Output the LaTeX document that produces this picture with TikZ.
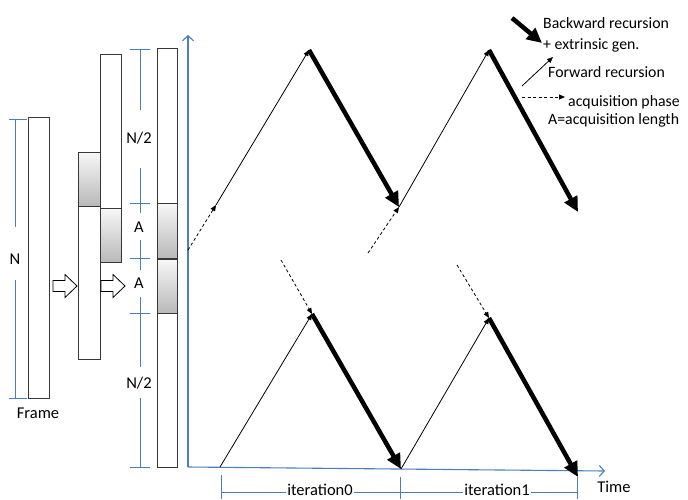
\documentclass[tikz,border=0pt]{standalone}
\usepackage{fontspec}
\setmainfont{Carlito}
\usetikzlibrary{arrows.meta}
\definecolor{axblue}{RGB}{74,126,193}
\definecolor{barline}{RGB}{55,55,55}
\begin{document}
\begin{tikzpicture}[x=1pt,y=-1pt,
  txt/.style={font=\fontsize{16.5}{19}\selectfont, inner sep=0pt, anchor=base},
  ltxt/.style={font=\fontsize{15.8}{19}\selectfont, inner sep=0pt, anchor=base west},
  bar/.style={draw=barline, line width=0.9pt, fill=white, inner sep=0pt},
  blk/.style={draw=barline, line width=0.9pt, top color=gray!6, bottom color=gray!55, inner sep=0pt},
  dim/.style={draw=axblue, line width=0.9pt},
  axis/.style={draw=axblue, line width=1.1pt, -{Straight Barb[length=5pt,width=11pt]}},
  fwd/.style={draw=black, line width=0.8pt, -{Triangle[length=6pt,width=5pt]}},
  bwd/.style={draw=black, line width=4.5pt, -{Triangle[length=15pt,width=14pt]}},
  acq/.style={draw=black, line width=0.8pt, dash pattern=on 3pt off 2.5pt, -{Triangle[length=6pt,width=5pt]}},
  hollow/.style={draw=black, line width=0.8pt, fill=white, line join=miter}
]
\useasboundingbox (0,0) rectangle (688,499);

% bars
\node[bar, minimum width=21pt, minimum height=281pt] (frame) at (38.5,257.5) {};
\node[bar, minimum width=22pt, minimum height=207pt] (bar2) at (89,255.5) {};
\node[blk, minimum width=22pt, minimum height=54pt] (blk2) at (89,179) {};
\node[bar, minimum width=21pt, minimum height=208pt] (bar3) at (110.5,158) {};
\node[blk, minimum width=21pt, minimum height=54pt] (blk3) at (110.5,235) {};
\node[bar, minimum width=20pt, minimum height=419pt] (bar4) at (167,257.5) {};
\node[blk, minimum width=20pt, minimum height=55pt] (blk4a) at (167,230.5) {};
\node[blk, minimum width=20pt, minimum height=54pt] (blk4b) at (167,286) {};

% hollow arrows
\foreach \xx in {53,101}
  \draw[hollow] (\xx,280.5) -- ++(12,0) -- ++(0,-6) -- ++(12,11.5) -- ++(-12,11.5) -- ++(0,-6) -- ++(-12,0) -- cycle;

% left dimension N
\draw[dim] (9,119) -- (27,119);
\draw[dim] (9,398) -- (27,398);
\draw[dim] (15,119) -- (15,227);
\draw[dim] (15,280) -- (15,398);
\node[txt] (nlab) at (15,264) {N};
\node[txt] (framelab) at (38,418) {Frame};

% middle dimension
\foreach \yy in {49,203,258,313,467} \draw[dim] (130,\yy) -- (150,\yy);
\draw[dim] (140,49) -- (140,110);
\draw[dim] (140,168) -- (140,213);
\draw[dim] (140,240) -- (140,270);
\draw[dim] (140,297) -- (140,367);
\draw[dim] (140,398) -- (140,467);
\node[txt] (n2a) at (139,143) {N/2};
\node[txt] (aa) at (139,232) {A};
\node[txt] (ab) at (139,288) {A};
\node[txt] (n2b) at (139,388) {N/2};

% axes
\coordinate (origin) at (188,467);
\coordinate (ytop) at (188,35);
\coordinate (xend) at (605,471);
\draw[axis] (origin) -- (ytop);
\draw[axis] (origin) -- (xend);
\node[txt] (timelab) at (614,492) {Time};

% iteration dimensions
\coordinate (i0a) at (221,475); \coordinate (i0b) at (221,499);
\coordinate (i1a) at (400,477); \coordinate (i1b) at (400,499);
\coordinate (i2a) at (577,477); \coordinate (i2b) at (577,499);
\draw[dim] (i0a) -- (i0b);
\draw[dim] (i1a) -- (i1b);
\draw[dim] (i2a) -- (i2b);
\draw[dim] (221,492) -- (577,492);
\node[txt, fill=white, inner xsep=1.5pt, inner ysep=0pt] (it0) at (320,495.5) {iteration0};
\node[txt, fill=white, inner xsep=1.5pt, inner ysep=0pt] (it1) at (497,495.5) {iteration1};

% upper zigzag
\coordinate (a0) at (188,250);
\coordinate (f1) at (216,205);
\coordinate (p1) at (309,50);
\coordinate (b1) at (399,207);
\coordinate (a1) at (368,253);
\coordinate (p2) at (489,50);
\coordinate (b2) at (578,212);
\draw[acq] (a0) -- (f1);
\draw[fwd] (f1) -- (p1);
\draw[bwd] (p1) -- (b1);
\draw[acq] (a1) -- (b1);
\draw[fwd] (b1) -- (p2);
\draw[bwd] (p2) -- (b2);

% lower zigzag
\coordinate (q0) at (220,467);
\coordinate (r1) at (312,314);
\coordinate (s1) at (401,469);
\coordinate (r2) at (489,318);
\coordinate (s2) at (578,477);
\coordinate (c1) at (281,260);
\coordinate (c2) at (457,265);
\draw[acq] (c1) -- (r1);
\draw[fwd] (q0) -- (r1);
\draw[bwd] (r1) -- (s1);
\draw[acq] (c2) -- (r2);
\draw[fwd] (s1) -- (r2);
\draw[bwd] (r2) -- (s2);

% legend
\coordinate (lb0) at (512,18); \coordinate (lb1) at (542,43);
\coordinate (lf0) at (522,86); \coordinate (lf1) at (553,57);
\coordinate (la0) at (522,97); \coordinate (la1) at (565,97);
\draw[bwd] (lb0) -- (lb1);
\draw[fwd] (lf0) -- (lf1);
\draw[acq] (la0) -- (la1);
\node[ltxt] (lg1) at (543,28) {Backward recursion};
\node[ltxt] (lg2) at (543,49) {+ extrinsic gen.};
\node[ltxt] (lg3) at (548,77) {Forward recursion};
\node[ltxt] (lg4) at (568,106) {acquisition phase};
\node[ltxt] (lg5) at (548,124) {A=acquisition length};
\end{tikzpicture}
\end{document}
